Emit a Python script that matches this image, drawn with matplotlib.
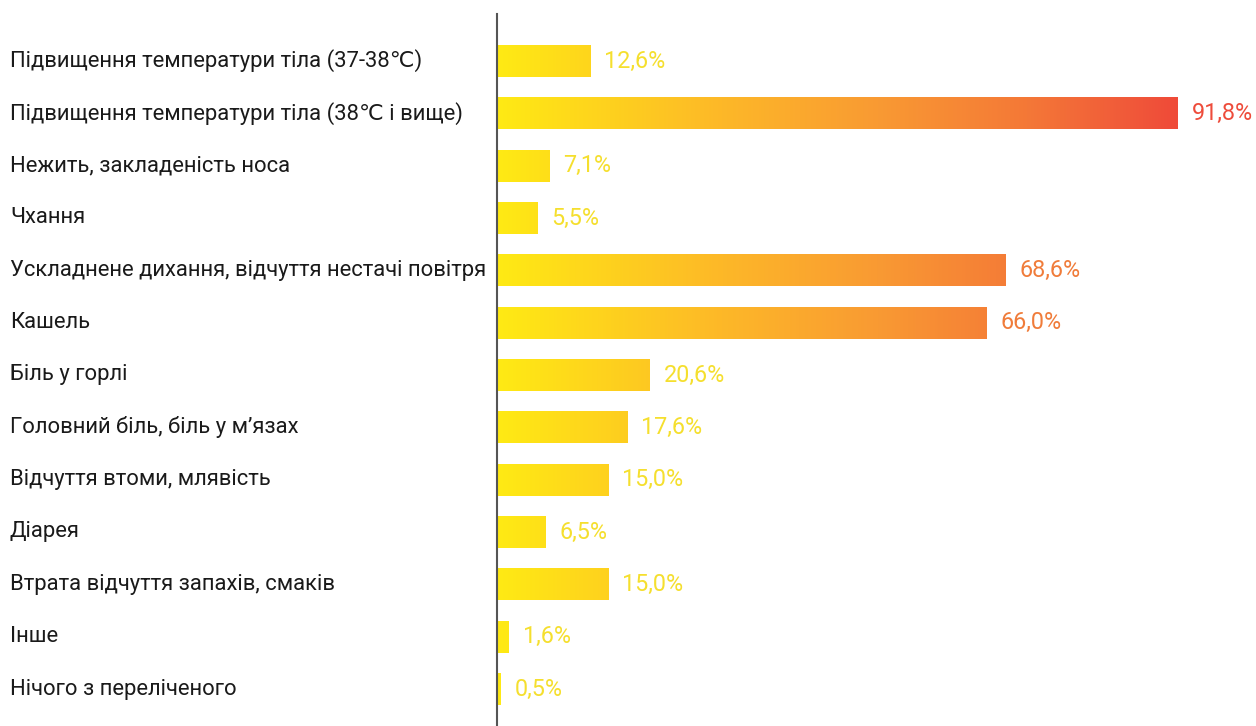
import numpy as np
import matplotlib
matplotlib.use("Agg")
import matplotlib.pyplot as plt
from matplotlib.colors import LinearSegmentedColormap
from matplotlib.transforms import blended_transform_factory

plt.rcParams['font.family'] = ['Roboto', 'DejaVu Sans']

categories = [
    "Підвищення температури тіла (37-38℃)",
    "Підвищення температури тіла (38℃ і вище)",
    "Нежить, закладеність носа",
    "Чхання",
    "Ускладнене дихання, відчуття нестачі повітря",
    "Кашель",
    "Біль у горлі",
    "Головний біль, біль у м’язах",
    "Відчуття втоми, млявість",
    "Діарея",
    "Втрата відчуття запахів, смаків",
    "Інше",
    "Нічого з переліченого",
]
values = [12.6, 91.8, 7.1, 5.5, 68.6, 66.0, 20.6, 17.6, 15.0, 6.5, 15.0, 1.6, 0.5]
value_labels = ["12,6%", "91,8%", "7,1%", "5,5%", "68,6%", "66,0%", "20,6%",
                "17,6%", "15,0%", "6,5%", "15,0%", "1,6%", "0,5%"]

cmap = LinearSegmentedColormap.from_list("heat", [
    (0.0, "#FFEA14"), (0.33, "#FDB828"), (0.56, "#F99A33"),
    (0.78, "#F47837"), (0.95, "#F0553A"), (1.0, "#EF4A38")])
vmax = max(values)


def label_color(v):
    if v > 90:
        return "#EE4C3B"
    if v > 50:
        return "#F07C3A"
    return "#F5DF2E"


fig = plt.figure(figsize=(12.56, 7.26), dpi=100)
ax = fig.add_axes([497 / 1256, 0, 1 - 497 / 1256, 1 - 14 / 726])

h = 0.61
for i, v in enumerate(values):
    grad = np.linspace(0, v, 256)[None, :]
    ax.imshow(grad, cmap=cmap, vmin=0, vmax=vmax, aspect='auto',
              extent=[0, v, i + h / 2, i - h / 2], interpolation='bilinear')
    ax.annotate(value_labels[i], (v, i), xytext=(10, 0), textcoords='offset points',
                va='center', ha='left', fontsize=16.8, color=label_color(v))

tr = blended_transform_factory(fig.transFigure, ax.transData)
for i, c in enumerate(categories):
    ax.text(10 / 1256, i, c, transform=tr, ha='left', va='center',
            fontsize=15.8, color='#1a1a1a')

ax.set_xlim(0, (1256 - 497) / 7.418)
ax.set_ylim(len(values) - 1 + 0.707, -0.898)
ax.set_xticks([])
ax.set_yticks([])
for s in ['top', 'right', 'bottom']:
    ax.spines[s].set_visible(False)
ax.spines['left'].set_color('#555555')
ax.spines['left'].set_linewidth(1.5)

fig.savefig("out.png", dpi=100)
